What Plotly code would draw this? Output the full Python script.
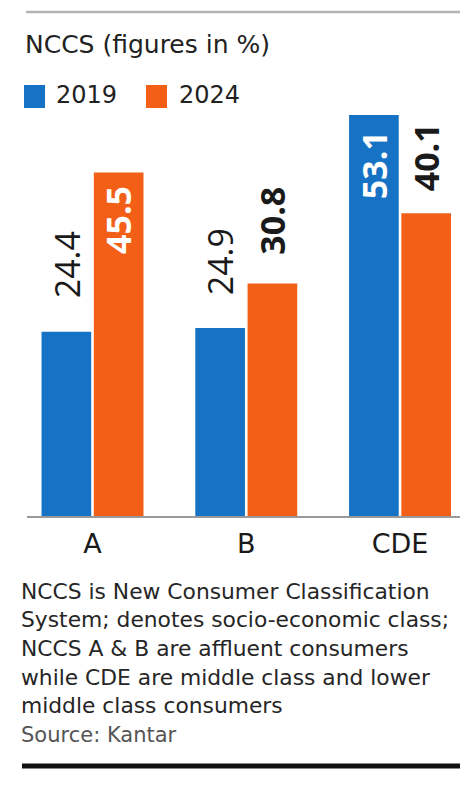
import plotly.graph_objects as go

# ---- data ----
categories = ["A", "B", "CDE"]
series_names = ["2019", "2024"]
values_2019 = [24.4, 24.9, 53.1]
values_2024 = [45.5, 30.8, 40.1]

title_text = "NCCS (figures in %)"
note_lines = [
    "NCCS is New Consumer Classification",
    "System; denotes socio-economic class;",
    "NCCS A & B are affluent consumers",
    "while CDE are middle class and lower",
    "middle class consumers",
]
source_text = "Source: Kantar"

# ---- styles ----
W, H = 460, 789
BLUE = "#1672c5"
ORANGE = "#f35f17"
FONT = "DejaVu Sans"
NUM_FONT = "Open Sans"
colors = [BLUE, ORANGE]

def py(p):
    return 1 - p / H

def px(p):
    return p / W

base_px = 516
top_px = 90
unit_px = 7.55
y_max = (base_px - top_px) / unit_px

fig = go.Figure()
for name, vals, col in zip(series_names, [values_2019, values_2024], colors):
    fig.add_trace(go.Bar(
        x=categories, y=vals, name=name, marker=dict(color=col, line=dict(width=0)),
        showlegend=False, hoverinfo="skip",
    ))

# value labels (style per label: bold, colour, vertical offset)
label_style = {
    (0, 0): (False, "#1a1a1a", 67),
    (1, 0): (True, "#ffffff", -48),
    (0, 1): (False, "#1a1a1a", 66),
    (1, 1): (True, "#1a1a1a", 63),
    (0, 2): (True, "#ffffff", -50),
    (1, 2): (True, "#1a1a1a", 56),
}
slot_shift = 26
annotations = []
for si, vals in enumerate([values_2019, values_2024]):
    for ci, v in enumerate(vals):
        bold, col, ys = label_style[(si, ci)]
        txt = f"{v:.1f}"
        if bold:
            txt = f"<b>{txt}</b>"
        annotations.append(dict(
            x=categories[ci], y=v, xref="x", yref="y", text=txt, showarrow=False,
            textangle=-90, xanchor="center", yanchor="middle",
            xshift=(-slot_shift if si == 0 else slot_shift), yshift=ys,
            font=dict(family=NUM_FONT, size=34, color=col),
        ))

# title
annotations.append(dict(
    x=px(23), y=py(44), xref="paper", yref="paper", text=title_text, showarrow=False,
    xanchor="left", yanchor="middle", font=dict(family=FONT, size=25, color="#222222"),
))

# legend (manual)
legend_sq_x = [24, 146]
legend_txt_x = [54, 177]
shapes = []
for i, name in enumerate(series_names):
    shapes.append(dict(type="rect", xref="paper", yref="paper",
                       x0=px(legend_sq_x[i]), x1=px(legend_sq_x[i] + 21),
                       y0=py(108), y1=py(85), fillcolor=colors[i], line=dict(width=0)))
    annotations.append(dict(
        x=px(legend_txt_x[i]), y=py(95), xref="paper", yref="paper", text=name,
        showarrow=False, xanchor="left", yanchor="middle",
        font=dict(family=FONT, size=24, color="#222222"),
    ))

# footnote
for i, line in enumerate(note_lines):
    annotations.append(dict(
        x=px(19), y=py(591 + i * 28.7), xref="paper", yref="paper", text=line,
        showarrow=False, xanchor="left", yanchor="middle",
        font=dict(family=FONT, size=21.8, color="#262626"),
    ))
annotations.append(dict(
    x=px(19), y=py(591 + 5 * 28.7), xref="paper", yref="paper", text=source_text,
    showarrow=False, xanchor="left", yanchor="middle",
    font=dict(family=FONT, size=21, color="#555555"),
))

# rules
shapes.append(dict(type="line", xref="paper", yref="paper", x0=px(26), x1=1,
                   y0=py(12), y1=py(12), line=dict(color="#b3b3b3", width=2.5)))
shapes.append(dict(type="line", xref="paper", yref="paper", x0=px(22), x1=1,
                   y0=py(766), y1=py(766), line=dict(color="#111111", width=5)))

fig.update_layout(
    width=W, height=H, margin=dict(l=0, r=0, t=0, b=0),
    paper_bgcolor="white", plot_bgcolor="white",
    barmode="group", bargap=0.32, bargroupgap=0.05,
    annotations=annotations, shapes=shapes, showlegend=False,
    xaxis=dict(domain=[px(27), 1], range=[-0.426, 2.39], type="category",
               showline=True, linecolor="#9a9a9a", linewidth=1.5,
               showgrid=False, zeroline=False, ticks="",
               ticklabelstandoff=3,
               tickfont=dict(family=FONT, size=27, color="#1a1a1a")),
    yaxis=dict(domain=[py(base_px), py(top_px)], range=[0, y_max], visible=False,
               showgrid=False, zeroline=False),
)

fig.write_html("out.html", config={"displayModeBar": False},
               post_script="document.body.style.margin='0';document.body.style.overflow='hidden';")
